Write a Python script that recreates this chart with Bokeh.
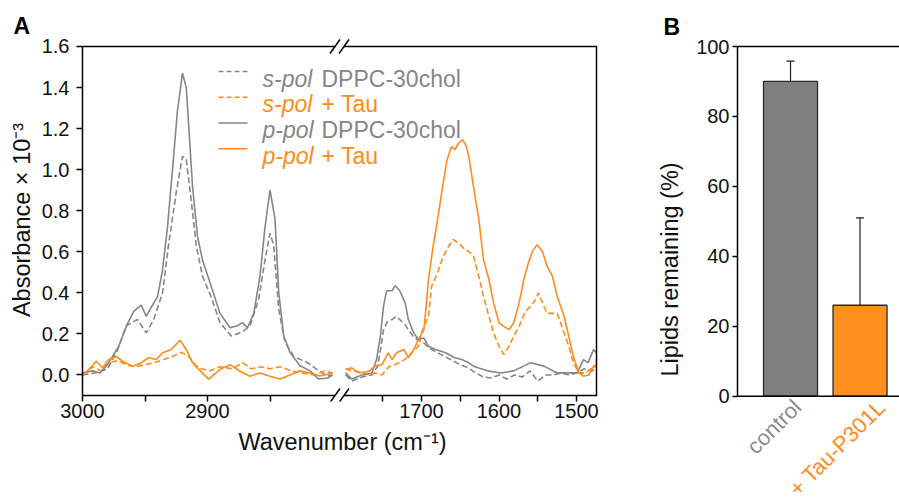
import math
from bokeh.plotting import figure
from bokeh.models import (Range1d, FixedTicker, LabelSet, Label, ColumnDataSource,
                          Whisker, TeeHead, Span, NumeralTickFormatter)
from bokeh.layouts import row
from bokeh.embed import file_html
from bokeh.resources import INLINE
from bokeh.core.properties import value, field

FONT = "Liberation Sans"
GRAY = "#868686"
ORANGE = "#ff8c1a"
TXT = "#111111"

# ---------------- data: panel A (IRRAS spectra) ----------------
# CH-stretch region (3000-2800 cm-1)
ch_p_dppc_wn = [3000, 2992, 2986, 2979, 2971, 2964, 2959, 2953, 2949, 2945, 2940, 2936, 2932, 2928, 2924,
                2920, 2917, 2915, 2912, 2908, 2904, 2898, 2890, 2882, 2876, 2872, 2868, 2863, 2858, 2854,
                2850, 2846, 2843, 2839, 2834, 2826, 2818, 2811, 2804, 2800]
ch_p_dppc = [0.01, 0.02, 0.01, 0.06, 0.14, 0.25, 0.31, 0.34, 0.285, 0.33, 0.38, 0.51, 0.72, 1.0, 1.29,
             1.47, 1.40, 1.21, 0.92, 0.675, 0.56, 0.45, 0.30, 0.23, 0.24, 0.255, 0.23, 0.30, 0.48, 0.72,
             0.90, 0.76, 0.40, 0.19, 0.11, 0.045, 0.02, -0.02, -0.015, 0.0]

ch_s_dppc_wn = [3000, 2990, 2980, 2972, 2965, 2956, 2949, 2943, 2936, 2931, 2925, 2920, 2917, 2913, 2909,
                2904, 2897, 2890, 2881, 2872, 2866, 2859, 2854, 2850, 2847, 2843, 2838, 2831, 2820, 2811,
                2804, 2800]
ch_s_dppc = [0.0, 0.01, 0.03, 0.12, 0.24, 0.27, 0.205, 0.27, 0.40, 0.64, 0.89, 1.065, 1.05, 0.85, 0.63,
             0.48, 0.38, 0.255, 0.19, 0.21, 0.24, 0.37, 0.56, 0.69, 0.63, 0.32, 0.16, 0.09, 0.06, 0.02,
             -0.005, 0.0]

ch_p_tau_wn = [3000, 2995, 2989, 2984, 2979, 2973, 2968, 2960, 2953, 2947, 2941, 2936, 2929, 2922, 2917,
               2912, 2907, 2899, 2890, 2882, 2874, 2866, 2858, 2850, 2842, 2834, 2826, 2818, 2810, 2800]
ch_p_tau = [-0.005, 0.027, 0.067, 0.035, 0.075, 0.09, 0.067, 0.043, 0.06, 0.084, 0.075, 0.108, 0.124, 0.17,
            0.124, 0.06, 0.027, -0.02, 0.027, 0.05, 0.018, -0.006, 0.01, -0.006, -0.02, 0.0, 0.02, 0.01,
            -0.005, 0.01]

ch_s_tau_wn = [3000, 2992, 2985, 2978, 2972, 2965, 2958, 2950, 2943, 2935, 2928, 2921, 2915, 2910, 2905,
               2898, 2890, 2880, 2872, 2865, 2857, 2850, 2842, 2833, 2825, 2815, 2806, 2800]
ch_s_tau = [0.0, 0.04, 0.02, 0.06, 0.07, 0.05, 0.04, 0.05, 0.06, 0.075, 0.09, 0.11, 0.09, 0.05, 0.03,
            0.02, 0.04, 0.03, 0.06, 0.03, 0.04, 0.03, 0.04, 0.02, 0.01, 0.0, 0.02, 0.01]

# Carbonyl / amide region (1800-1475 cm-1)
am_p_dppc_wn = [1798, 1790, 1777, 1764, 1758, 1753, 1749, 1745, 1738, 1734, 1728, 1721, 1717, 1710, 1704,
                1697, 1691, 1682, 1669, 1657, 1648, 1639, 1633, 1615, 1598, 1581, 1559, 1542, 1525, 1499,
                1491, 1485, 1478, 1475]
am_p_dppc = [0.01, -0.02, 0.0, 0.01, 0.075, 0.19, 0.335, 0.41, 0.41, 0.435, 0.41, 0.35, 0.27, 0.205, 0.173,
             0.18, 0.14, 0.124, 0.108, 0.084, 0.075, 0.06, 0.043, 0.02, 0.01, 0.02, 0.06, 0.043, 0.01, 0.01,
             0.075, 0.06, 0.124, 0.11]

am_s_dppc_wn = [1798, 1790, 1777, 1764, 1757, 1753, 1749, 1744, 1738, 1733, 1728, 1722, 1717, 1711, 1705,
                1698, 1690, 1680, 1670, 1660, 1650, 1640, 1630, 1620, 1610, 1600, 1590, 1580, 1570, 1560,
                1550, 1540, 1530, 1520, 1510, 1500, 1490, 1480, 1475]
am_s_dppc = [0.0, -0.03, -0.01, 0.0, 0.04, 0.12, 0.22, 0.26, 0.27, 0.285, 0.27, 0.25, 0.22, 0.19, 0.17,
             0.16, 0.13, 0.11, 0.09, 0.07, 0.05, 0.035, 0.01, -0.01, -0.015, 0.0, -0.02, 0.0, -0.01, 0.02,
             -0.03, 0.0, 0.0, 0.01, 0.0, 0.01, 0.03, 0.02, 0.03]

am_p_tau_wn = [1798, 1790, 1781, 1768, 1760, 1751, 1743, 1738, 1732, 1723, 1717, 1710, 1704, 1697, 1694,
               1691, 1685, 1680, 1674, 1667, 1661, 1657, 1652, 1647, 1642, 1639, 1633, 1626, 1620, 1613,
               1607, 1600, 1594, 1587, 1581, 1574, 1568, 1562, 1557, 1551, 1544, 1538, 1531, 1525, 1516,
               1510, 1504, 1497, 1491, 1484, 1478, 1475]
am_p_tau = [0.027, 0.035, 0.01, 0.018, 0.043, 0.05, 0.108, 0.075, 0.108, 0.124, 0.084, 0.124, 0.173, 0.22,
            0.335, 0.465, 0.627, 0.74, 0.887, 1.05, 1.113, 1.097, 1.13, 1.146, 1.113, 1.065, 0.919, 0.757,
            0.562, 0.465, 0.351, 0.254, 0.237, 0.221, 0.254, 0.351, 0.465, 0.546, 0.602, 0.635, 0.602, 0.53,
            0.481, 0.383, 0.286, 0.189, 0.09, 0.01, -0.006, 0.0, 0.043, 0.05]

am_s_tau_wn = [1798, 1790, 1781, 1768, 1760, 1751, 1742, 1735, 1728, 1720, 1712, 1704, 1700, 1691, 1687,
               1682, 1678, 1672, 1665, 1659, 1650, 1644, 1639, 1633, 1626, 1620, 1613, 1607, 1600, 1594,
               1587, 1581, 1574, 1566, 1559, 1553, 1549, 1542, 1538, 1525, 1519, 1510, 1504, 1497, 1488,
               1480, 1475]
am_s_tau = [0.03, 0.02, 0.015, 0.0, 0.01, 0.0, 0.04, 0.05, 0.06, 0.08, 0.11, 0.14, 0.205, 0.286, 0.432,
            0.473, 0.513, 0.578, 0.627, 0.66, 0.635, 0.61, 0.602, 0.578, 0.48, 0.383, 0.286, 0.205, 0.14,
            0.1, 0.14, 0.189, 0.237, 0.31, 0.335, 0.367, 0.40, 0.335, 0.30, 0.30, 0.237, 0.14, 0.06, 0.01,
            0.01, 0.035, 0.04]

x_major_ticks = [3000, 2900, 1700, 1600, 1500]
x_minor_ticks = [2950, 2850, 1750, 1650, 1550]
y_ticks_a = [0.0, 0.2, 0.4, 0.6, 0.8, 1.0, 1.2, 1.4, 1.6]
ya_min, ya_max = -0.1, 1.6

legend_entries = [("s-pol", "DPPC-30chol"), ("s-pol", "+ Tau"), ("p-pol", "DPPC-30chol"), ("p-pol", "+ Tau")]

# ---------------- data: panel B ----------------
categories = ["control", "+ Tau-P301L"]
remaining = [90.0, 26.0]
remaining_sd = [5.8, 25.0]
y_ticks_b = [0, 20, 40, 60, 80, 100]


# broken x axis: map wavenumber to a continuous plot coordinate (1 unit = 1 px)
def wn_to_u(w):
    if w >= 2300:
        return (3000 - w) * 1.25
    return 339 + (1700 - w) * 0.775


U_END = wn_to_u(1474.2)


def style_axis(ax):
    ax.axis_line_color = "black"
    ax.axis_line_width = 1.5
    ax.major_tick_line_color = "black"
    ax.major_tick_line_width = 1.5
    ax.minor_tick_line_color = "black"
    ax.minor_tick_line_width = 1.5
    ax.major_label_text_font = FONT
    ax.major_label_text_font_size = "20px"
    ax.major_label_text_color = TXT
    ax.axis_label_text_font = FONT
    ax.axis_label_text_font_size = "23.5px"
    ax.axis_label_text_font_style = "normal"
    ax.axis_label_text_color = TXT


PXU_A = 205.3  # pixels per absorbance unit

# ---------------- panel A ----------------
pA = figure(width=610, height=498, x_range=Range1d(0, 520),
            y_range=Range1d(ya_min - 6 / PXU_A, ya_max + 8 / PXU_A),
            output_backend="svg", toolbar_location=None,
            min_border_left=82, min_border_right=8, min_border_top=38, min_border_bottom=97)
pA.frame_align = False
pA.grid.visible = False
pA.outline_line_color = None
pA.title.text = "A"
pA.title.align = "left"
pA.title.offset = -69
pA.title.standoff = 0
pA.title.text_font = FONT
pA.title.text_font_size = "23px"
pA.title.text_font_style = "bold"
pA.title.text_color = "black"

series = [
    (ch_s_dppc_wn, ch_s_dppc, am_s_dppc_wn, am_s_dppc, GRAY, "6 3"),
    (ch_s_tau_wn, ch_s_tau, am_s_tau_wn, am_s_tau, ORANGE, "6 3"),
    (ch_p_dppc_wn, ch_p_dppc, am_p_dppc_wn, am_p_dppc, GRAY, "solid"),
    (ch_p_tau_wn, ch_p_tau, am_p_tau_wn, am_p_tau, ORANGE, "solid"),
]
for wn1, a1, wn2, a2, col, dash in series:
    for wn, a in ((wn1, a1), (wn2, a2)):
        pA.line(x=[wn_to_u(w) for w in wn], y=a, line_color=col, line_width=1.6, line_dash=dash)

# frame box (top, right, bottom) drawn inside the slightly enlarged frame
pA.line(x=[0, U_END, U_END, 0], y=[ya_max, ya_max, ya_min, ya_min], line_color="black",
        line_width=1.5, line_join="miter")

# axis-break marks
hb = 7 / PXU_A
for yc in (ya_min, ya_max):
    pA.patch(x=[247.5, 257.5, 266.5, 256.5], y=[yc - hb, yc + hb, yc + hb, yc - hb],
             fill_color="white", line_color=None)
    pA.multi_line(xs=[[247.5, 257.5], [256.5, 266.5]], ys=[[yc - hb, yc + hb], [yc - hb, yc + hb]],
                  line_color="black", line_width=1.5)

xa = pA.xaxis[0]
style_axis(xa)
xa.axis_line_color = None
xa.ticker = FixedTicker(ticks=[wn_to_u(w) for w in x_major_ticks],
                        minor_ticks=[wn_to_u(w) for w in x_minor_ticks])
xa.major_label_overrides = {wn_to_u(w): str(w) for w in x_major_ticks}
xa.major_tick_in = 6
xa.major_tick_out = 0
xa.minor_tick_in = 6
xa.minor_tick_out = 0
xa.major_label_standoff = 2
xa.axis_label = "Wavenumber (cm\u207b\u00b9)"
xa.axis_label_standoff = 8

ya = pA.yaxis[0]
style_axis(ya)
ya.bounds = (ya_min, ya_max)
ya.ticker = FixedTicker(ticks=y_ticks_a, minor_ticks=[])
ya.formatter = NumeralTickFormatter(format="0.0")
ya.major_tick_in = 0
ya.major_tick_out = 6
ya.major_label_standoff = 7
ya.axis_label = "Absorbance \u00d7 10\u207b\u00b3"
ya.axis_label_standoff = 4

# legend (drawn by hand: mixed italic text and coloured labels)
leg_styles = [(GRAY, "5 3"), (ORANGE, "5 3"), (GRAY, "solid"), (ORANGE, "solid")]
for i, ((pol, name), (col, dash)) in enumerate(zip(legend_entries, leg_styles)):
    yb = 1.443 - i * 0.1253
    pA.line(x=[136, 165], y=[yb + 0.035, yb + 0.035], line_color=col, line_width=1.6, line_dash=dash)
    pA.add_layout(Label(x=180, y=yb, text=pol, text_font=FONT, text_font_style="italic",
                        text_font_size="23px", text_color=col, text_baseline="alphabetic"))
    pA.add_layout(Label(x=239, y=yb, text=name, text_font=FONT, text_font_size="23px",
                        text_color=col, text_baseline="alphabetic"))

# ---------------- panel B ----------------
PXU_B = 3.495
yb_min = -(498 - 395.7) / PXU_B
pB = figure(width=289, height=498, x_range=Range1d(0.237, 0.237 + 162 / 69.5),
            y_range=Range1d(yb_min, 100 + 6 / PXU_B),
            output_backend="svg", toolbar_location=None,
            min_border_left=127, min_border_right=0, min_border_top=40, min_border_bottom=0)
pB.frame_align = False
pB.grid.visible = False
pB.outline_line_color = None
pB.xaxis.visible = False
pB.title.text = "B"
pB.title.align = "left"
pB.title.offset = -74
pB.title.standoff = 1
pB.title.text_font = FONT
pB.title.text_font_size = "23px"
pB.title.text_font_style = "bold"
pB.title.text_color = "black"

xpos = [i + 1 for i in range(len(categories))]
bar_colors = ["#808080", "#ff8f1f"]
label_colors = ["#8c8c8c", ORANGE]
pB.vbar(x=xpos, top=remaining, width=0.777, fill_color=bar_colors, line_color="#2a2a2a", line_width=1.3)

err_src = ColumnDataSource(dict(x=xpos,
                                upper=[m + s for m, s in zip(remaining, remaining_sd)],
                                lower=[m - s for m, s in zip(remaining, remaining_sd)]))
pB.add_layout(Whisker(source=err_src, base="x", upper="upper", lower="lower",
                      line_color="#222222", line_width=1.2,
                      upper_head=TeeHead(size=8, line_color="#222222", line_width=1.2),
                      lower_head=TeeHead(size=8, line_color="#222222", line_width=1.2)))

for loc in (0, 100):
    pB.add_layout(Span(location=loc, dimension="width", line_color="black", line_width=1.5))

ybx = pB.yaxis[0]
style_axis(ybx)
ybx.bounds = (0, 100)
ybx.ticker = FixedTicker(ticks=y_ticks_b, minor_ticks=[])
ybx.major_tick_in = 0
ybx.major_tick_out = 5
ybx.major_label_standoff = 3
ybx.axis_label = "Lipids remaining (%)"
ybx.axis_label_standoff = 10

label_dx = [0.10, 0.31]
cat_src = ColumnDataSource(dict(x=[x + d for x, d in zip(xpos, label_dx)], y=[-2.1] * len(xpos),
                                text=categories, color=label_colors))
pB.add_layout(LabelSet(source=cat_src, x="x", y="y", text="text", angle=math.pi / 4,
                       text_align="right", text_baseline="middle", text_font=value(FONT),
                       text_font_size=value("22px"), text_color=field("color")))

layout = row(pA, pB)
open("out.html", "w").write(file_html(layout, INLINE))
